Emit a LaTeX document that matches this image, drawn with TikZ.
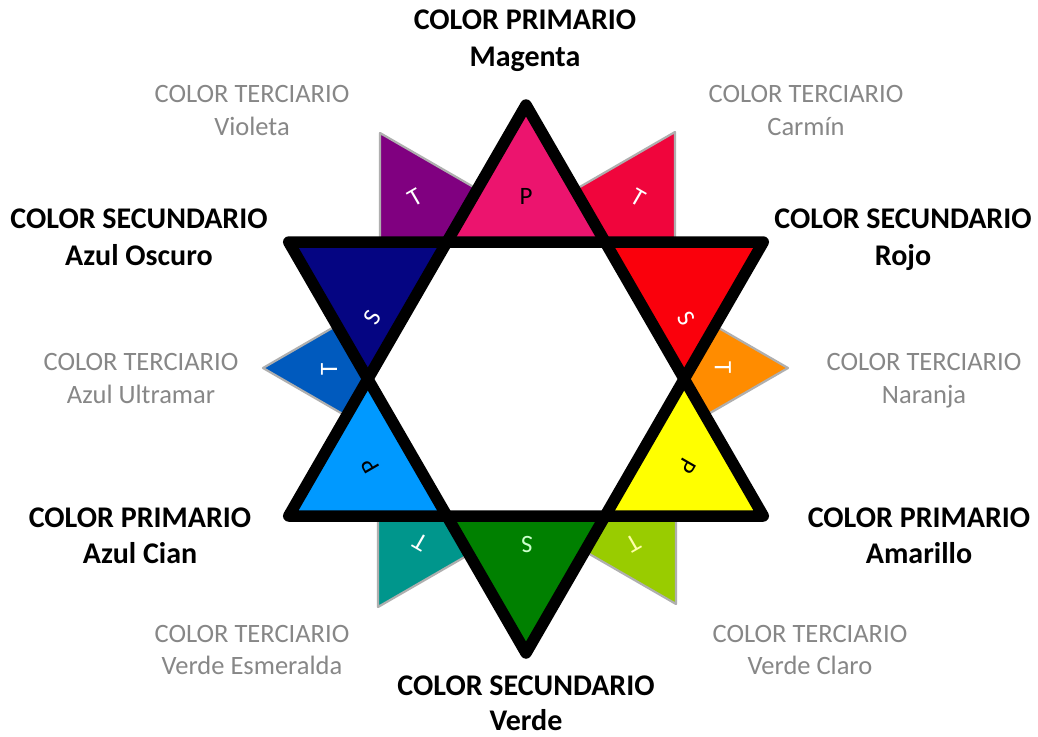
\documentclass[tikz,border=0pt]{standalone}
\usepackage{fontspec}
\setmainfont{Carlito}
\definecolor{cmag}{RGB}{236,20,110}
\definecolor{crojo}{RGB}{250,0,12}
\definecolor{cama}{RGB}{255,255,0}
\definecolor{cverde}{RGB}{0,128,0}
\definecolor{ccian}{RGB}{0,153,255}
\definecolor{cosc}{RGB}{5,5,130}
\definecolor{cviol}{RGB}{128,0,128}
\definecolor{ccarm}{RGB}{240,5,60}
\definecolor{cnar}{RGB}{255,140,0}
\definecolor{cvcl}{RGB}{153,204,0}
\definecolor{cesm}{RGB}{0,150,140}
\definecolor{cultra}{RGB}{0,90,190}
\definecolor{tgray}{RGB}{135,135,135}
\definecolor{tborder}{RGB}{175,175,175}
\definecolor{lyellow}{RGB}{255,255,170}
\begin{document}
\begin{tikzpicture}[x=1pt,y=-1pt,
  tert/.style={draw=tborder,line width=2.2pt,line join=round},
  outline/.style={draw=black,line width=11.5pt,line join=round},
  boldlbl/.style={font=\fontsize{30}{36}\selectfont\bfseries,text=black,anchor=base,inner sep=0pt},
  graylbl/.style={font=\fontsize{26.5}{32}\selectfont,text=tgray,anchor=base,inner sep=0pt},
  letter/.style={font=\fontsize{25}{25}\selectfont,inner sep=0pt}]
\fill[white] (0,0) rectangle (1038,736);
\useasboundingbox (0,0) rectangle (1038,736);
% star vertices
\coordinate (o90) at (526,105);
\coordinate (o30) at (763.3,242);
\coordinate (o330) at (763.3,516);
\coordinate (o270) at (526,653);
\coordinate (o210) at (288.7,516);
\coordinate (o150) at (288.7,242);
\coordinate (i0) at (684.2,379);
\coordinate (i60) at (605.1,242);
\coordinate (i120) at (446.9,242);
\coordinate (i180) at (367.8,379);
\coordinate (i240) at (446.9,516);
\coordinate (i300) at (605.1,516);
% tertiary pieces
\draw[tert,fill=cviol] (380,133) -- (380,303) -- (527.2,218) -- cycle;
\draw[tert,fill=ccarm] (675,132) -- (675,302) -- (527.8,217) -- cycle;
\draw[tert,fill=cultra] (263,368) -- (410.2,283) -- (410.2,453) -- cycle;
\draw[tert,fill=cnar] (788,368) -- (640.8,283) -- (640.8,453) -- cycle;
\draw[tert,fill=cesm] (378,607) -- (378,437) -- (525.2,522) -- cycle;
\draw[tert,fill=cvcl] (676,604) -- (676,434) -- (528.8,519) -- cycle;
% star points
\fill[cmag] (o90) -- (i60) -- (i120) -- cycle;
\fill[crojo] (o30) -- (i0) -- (i60) -- cycle;
\fill[cama] (o330) -- (i300) -- (i0) -- cycle;
\fill[cverde] (o270) -- (i240) -- (i300) -- cycle;
\fill[ccian] (o210) -- (i180) -- (i240) -- cycle;
\fill[cosc] (o150) -- (i120) -- (i180) -- cycle;
\fill[white] (i0) -- (i60) -- (i120) -- (i180) -- (i240) -- (i300) -- cycle;
% outlines
\draw[outline] (o90) -- (o330) -- (o210) -- cycle;
\draw[outline] (o150) -- (o30) -- (o270) -- cycle;
% letters
\node[letter,text=black] (lp1) at (526,196) {P};
\node[letter,text=white,rotate=-60] (ls1) at (686,318) {S};
\node[letter,text=black,rotate=-120] (lp2) at (687,466) {P};
\node[letter,text=white!80!green,rotate=180] (ls2) at (527,545) {S};
\node[letter,text=black,rotate=120] (lp3) at (370,466) {P};
\node[letter,text=white,rotate=60] (ls3) at (372,318) {S};
\node[letter,text=white,rotate=30] (lt1) at (415,198) {T};
\node[letter,text=white,rotate=-30] (lt2) at (638,198) {T};
\node[letter,text=white,rotate=90] (lt3) at (329,369) {T};
\node[letter,text=white,rotate=-90] (lt4) at (723,368) {T};
\node[letter,text=white,rotate=150] (lt5) at (420,542) {T};
\node[letter,text=lyellow,rotate=210] (lt6) at (633,543) {T};
% labels
\node[boldlbl] (a1) at (525,29) {COLOR PRIMARIO};
\node[boldlbl] (a2) at (525,66) {Magenta};
\node[graylbl] (b1) at (252,102) {COLOR TERCIARIO};
\node[graylbl] (b2) at (252,135) {Violeta};
\node[graylbl] (c1) at (806,102) {COLOR TERCIARIO};
\node[graylbl] (c2) at (806,135) {Carmín};
\node[boldlbl] (d1) at (139,228) {COLOR SECUNDARIO};
\node[boldlbl] (d2) at (139,265) {Azul Oscuro};
\node[boldlbl] (e1) at (903,228) {COLOR SECUNDARIO};
\node[boldlbl] (e2) at (903,265) {Rojo};
\node[graylbl] (f1) at (141,370) {COLOR TERCIARIO};
\node[graylbl] (f2) at (141,403) {Azul Ultramar};
\node[graylbl] (g1) at (924,370) {COLOR TERCIARIO};
\node[graylbl] (g2) at (924,403) {Naranja};
\node[boldlbl] (h1) at (140,527) {COLOR PRIMARIO};
\node[boldlbl] (h2) at (140,563) {Azul Cian};
\node[boldlbl] (k1) at (919,527) {COLOR PRIMARIO};
\node[boldlbl] (k2) at (919,563) {Amarillo};
\node[graylbl] (m1) at (252,642) {COLOR TERCIARIO};
\node[graylbl] (m2) at (252,674) {Verde Esmeralda};
\node[graylbl] (n1) at (810,642) {COLOR TERCIARIO};
\node[graylbl] (n2) at (810,674) {Verde Claro};
\node[boldlbl] (q1) at (526,695) {COLOR SECUNDARIO};
\node[boldlbl] (q2) at (526,730) {Verde};
\end{tikzpicture}
\end{document}
